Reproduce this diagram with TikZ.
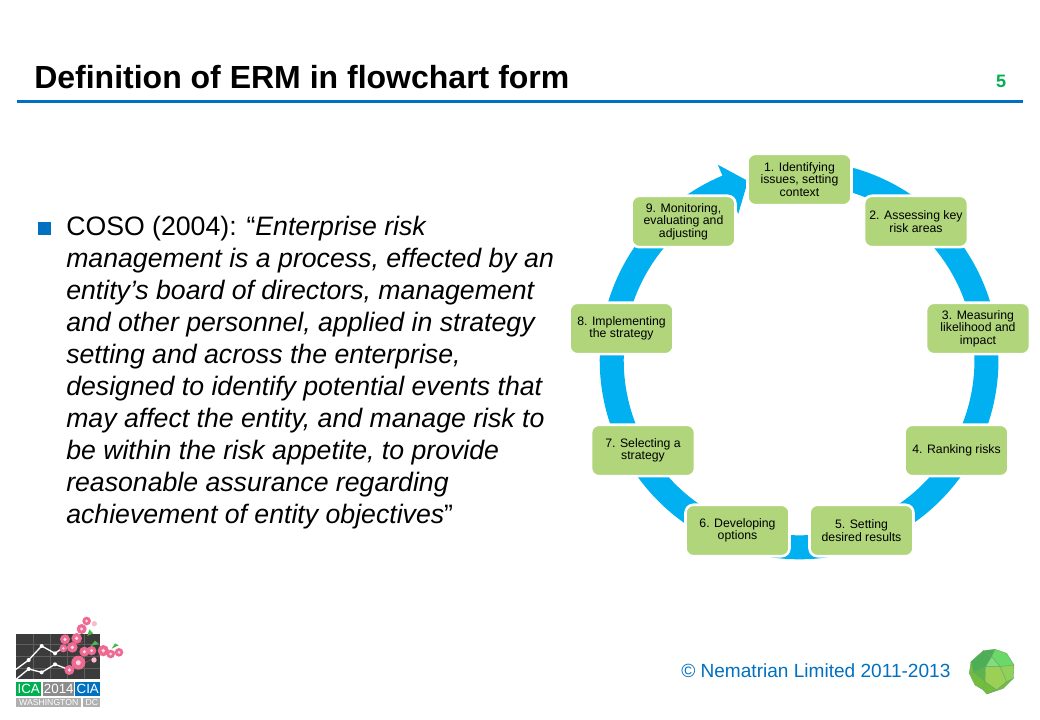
\documentclass[tikz,border=0pt]{standalone}
\usepackage{fontspec}
\setmainfont{Liberation Sans}
\usepackage{xcolor}
\usepackage{tikz}
\usetikzlibrary{
  arrows.meta,
  positioning,
  calc,
  backgrounds
}
\definecolor{ermBlue}{HTML}{0070C0}
\definecolor{ermRing}{HTML}{00B0F0}
\definecolor{ermStep}{HTML}{B0D57A}
\definecolor{ermGreen}{HTML}{00B050}
\definecolor{ermDark}{HTML}{3B3B3B}
\definecolor{ermGrey}{HTML}{B0B0B0}
\definecolor{ermPink}{HTML}{EE6A93}
\definecolor{ermFacetA}{HTML}{4DAE55}
\definecolor{ermFacetB}{HTML}{6BD868}
\definecolor{ermFacetC}{HTML}{9CCF55}
\definecolor{ermFacetD}{HTML}{74BC3C}
\tikzset{
  stepnode/.style={
    draw=white, line width=1.9pt, fill=ermStep, rounded corners=6pt,
    minimum width=78pt, minimum height=38.6pt, inner sep=0pt,
    font=\fontsize{9.2}{9.3}\selectfont, align=center, text=black
  },
  ringline/.style={line width=18pt, ermRing},
  headline/.style={font=\fontsize{24}{28}\selectfont\bfseries, anchor=west, inner sep=0pt},
  bodytext/.style={font=\fontsize{20}{24}\selectfont, align=left, anchor=north west, inner sep=0pt},
  foottext/.style={font=\fontsize{14.3}{18}\selectfont, text=ermBlue, anchor=west, inner sep=0pt},
  logobox/.style={inner sep=0pt, text=white, font=\fontsize{10}{11}\selectfont},
  logostrip/.style={inner sep=0pt, text=white, fill=ermGrey, font=\fontsize{6.5}{7}\selectfont},
  facet/.style={draw=black!55!green!60, line width=0.3pt}
}

\begin{document}
\begin{tikzpicture}[x=0.75pt, y=-0.75pt]
  \useasboundingbox (0,0) rectangle (1040,720);

  % header
  \node[headline] (title) at (34,77) {Definition of ERM in flowchart form};
  \node[inner sep=0pt, font=\fontsize{13.5}{16}\selectfont\bfseries, text=ermGreen] (pageno) at (1001,81.5) {5};
  \draw[ermBlue, line width=2.25pt] (17,101.5) -- (1023,101.5);

  % bullet and quote
  \node[fill=ermBlue, minimum size=9.2pt, inner sep=0pt, anchor=north west] (bullet) at (38,222) {};
  \node[bodytext] (quote) at (66,216) {COSO (2004): “\textit{Enterprise risk}\\
    \textit{management is a process, effected by an}\\
    \textit{entity’s board of directors, management}\\
    \textit{and other personnel, applied in strategy}\\
    \textit{setting and across the enterprise,}\\
    \textit{designed to identify potential events that}\\
    \textit{may affect the entity, and manage risk to}\\
    \textit{be within the risk appetite, to provide}\\
    \textit{reasonable assurance regarding}\\
    \textit{achievement of entity objectives}”};

  % steps
  \coordinate (ringcentre) at (799,360);
  \node[stepnode] (n1) at (799.5,179.5) {1. Identifying\\issues, setting\\context};
  \node[stepnode] (n2) at (916,221.5) {2. Assessing key\\risk areas};
  \node[stepnode] (n3) at (978,328.5) {3. Measuring\\likelihood and\\impact};
  \node[stepnode] (n4) at (956.5,450.5) {4. Ranking risks};
  \node[stepnode] (n5) at (861.5,530.5) {5. Setting\\desired results};
  \node[stepnode] (n6) at (737.5,530.5) {6. Developing\\options};
  \node[stepnode] (n7) at (643,450.5) {7. Selecting a\\strategy};
  \node[stepnode] (n8) at (621.5,328.5) {8. Implementing\\the strategy};
  \node[stepnode] (n9) at (683.5,221.5) {9. Monitoring,\\evaluating and\\adjusting};

  % ring behind the steps
  \coordinate (r1) at ($(ringcentre)!140.6pt!(n1)$);
  \coordinate (r2) at ($(ringcentre)!140.6pt!(n2)$);
  \coordinate (r3) at ($(ringcentre)!140.6pt!(n3)$);
  \coordinate (r4) at ($(ringcentre)!140.6pt!(n4)$);
  \coordinate (r5) at ($(ringcentre)!140.6pt!(n5)$);
  \coordinate (r6) at ($(ringcentre)!140.6pt!(n6)$);
  \coordinate (r7) at ($(ringcentre)!140.6pt!(n7)$);
  \coordinate (r8) at ($(ringcentre)!140.6pt!(n8)$);
  \coordinate (r9) at ($(ringcentre)!140.6pt!(n9)$);
  \coordinate (ringneck) at (722,191.8);
  \coordinate (ringtip) at (748,181);
  \begin{pgfonlayer}{background}
    \draw[ringline] (r1) arc[start angle=-90, delta angle=40, radius=187.5];
    \draw[ringline] (r2) arc[start angle=-50, delta angle=40, radius=187.5];
    \draw[ringline] (r3) arc[start angle=-10, delta angle=40, radius=187.5];
    \draw[ringline] (r4) arc[start angle=30, delta angle=40, radius=187.5];
    \draw[ringline] (r5) arc[start angle=70, delta angle=40, radius=187.5];
    \draw[ringline] (r6) arc[start angle=110, delta angle=40, radius=187.5];
    \draw[ringline] (r7) arc[start angle=150, delta angle=40, radius=187.5];
    \draw[ringline] (r8) arc[start angle=190, delta angle=40, radius=187.5];
    \draw[ringline] (r9) arc[start angle=230, end angle=248, radius=187.5];
    \draw[ringline, -{Triangle[length=16.2pt, width=39pt]}] (ringneck) -- (ringtip);
  \end{pgfonlayer}

  % footer
  \node[foottext] (copyright) at (681,671) {© Nematrian Limited 2011-2013};

  % conference logo
  \fill[ermDark] (16,634) rectangle (100,679);
  \draw[white!18!ermDark, line width=0.4pt] (16,644) -- (100,644) (16,656) -- (100,656) (16,668) -- (100,668)
    (33,634) -- (33,679) (50,634) -- (50,679) (67,634) -- (67,679) (84,634) -- (84,679);
  \begin{scope}[shift={(0,610)}, x=0.25pt, y=-0.25pt]
    \draw[white, line width=1pt] (48,178) -- (86,150) -- (125,108) -- (165,130) -- (190,112);
    \draw[white, line width=1pt] (48,208) -- (86,177) -- (125,187) -- (165,163) -- (210,180);
    \fill[white] (86,150) circle (6) (125,108) circle (6) (165,130) circle (6)
      (86,177) circle (6) (125,187) circle (6) (165,163) circle (6);
    \draw[ermPink!60!black, line width=0.6pt] (190,112) -- (250,95) (210,180) -- (320,125) -- (357,127);
    \fill[green!60!black!70] (262,78) -- (268,58) -- (280,70) -- cycle
      (272,108) -- (285,92) -- (297,102) -- cycle (335,116) -- (345,100) -- (356,106) -- cycle;
    \foreach \bx/\by/\br in {260/33/13, 245/57/15, 195/88/15, 230/85/16, 217/112/16, 190/115/12, 253/125/15, 275/122/14, 235/158/21, 208/180/15, 310/122/17, 332/132/13, 357/127/13} {
      \fill[ermPink] (\bx,\by) circle (\br);
      \fill[white!75!ermPink] (\bx,\by) circle (\br*0.35);
    }
    \fill[ermPink!45] (283,41) circle (8) (282,150) circle (8);
  \end{scope}
  \node[logobox, fill=ermGreen, minimum width=18.75pt, minimum height=10.5pt, anchor=north west] (logoica) at (16,682) {ICA};
  \node[logobox, fill=black!45, minimum width=23.25pt, minimum height=10.5pt, anchor=north west] (logoyear) at (43,682) {2014};
  \node[logobox, fill=ermBlue, minimum width=18.75pt, minimum height=10.5pt, anchor=north west] (logocia) at (75,682) {CIA};
  \node[logostrip, minimum width=48.75pt, minimum height=6.75pt, anchor=north west] (logocity) at (16,698) {WASHINGTON};
  \node[logostrip, minimum width=12.75pt, minimum height=6.75pt, anchor=north west] (logodc) at (83,698) {DC};

  % polyhedron
  \begin{scope}[shift={(950,640)}, x=0.25pt, y=-0.25pt]
    \filldraw[facet, fill=ermFacetA] (63,65) -- (100,32) -- (125,50) -- (107,80) -- (70,97) -- cycle;
    \filldraw[facet, fill=ermFacetA] (100,32) -- (135,28) -- (125,50) -- cycle;
    \filldraw[facet, fill=ermFacetB] (125,50) -- (135,28) -- (170,40) -- (192,75) -- (150,80) -- cycle;
    \filldraw[facet, fill=ermFacetB!85!white] (125,50) -- (150,80) -- (107,80) -- cycle;
    \filldraw[facet, fill=ermFacetC!80!ermFacetB] (150,80) -- (192,75) -- (190,115) -- (170,125) -- cycle;
    \filldraw[facet, fill=ermFacetD] (63,65) -- (70,97) -- (58,100) -- cycle;
    \filldraw[facet, fill=ermFacetA!60!ermFacetD] (70,97) -- (107,80) -- (105,125) -- cycle;
    \filldraw[facet, fill=ermFacetC] (107,80) -- (150,80) -- (170,125) -- (140,150) -- (105,125) -- cycle;
    \filldraw[facet, fill=ermFacetD] (58,100) -- (70,97) -- (105,125) -- (100,150) -- (75,135) -- cycle;
    \filldraw[facet, fill=ermFacetD] (105,125) -- (140,150) -- (110,162) -- (100,150) -- cycle;
    \filldraw[facet, fill=ermFacetD] (170,125) -- (190,115) -- (160,145) -- (110,162) -- (140,150) -- cycle;
  \end{scope}
\end{tikzpicture}
\end{document}
